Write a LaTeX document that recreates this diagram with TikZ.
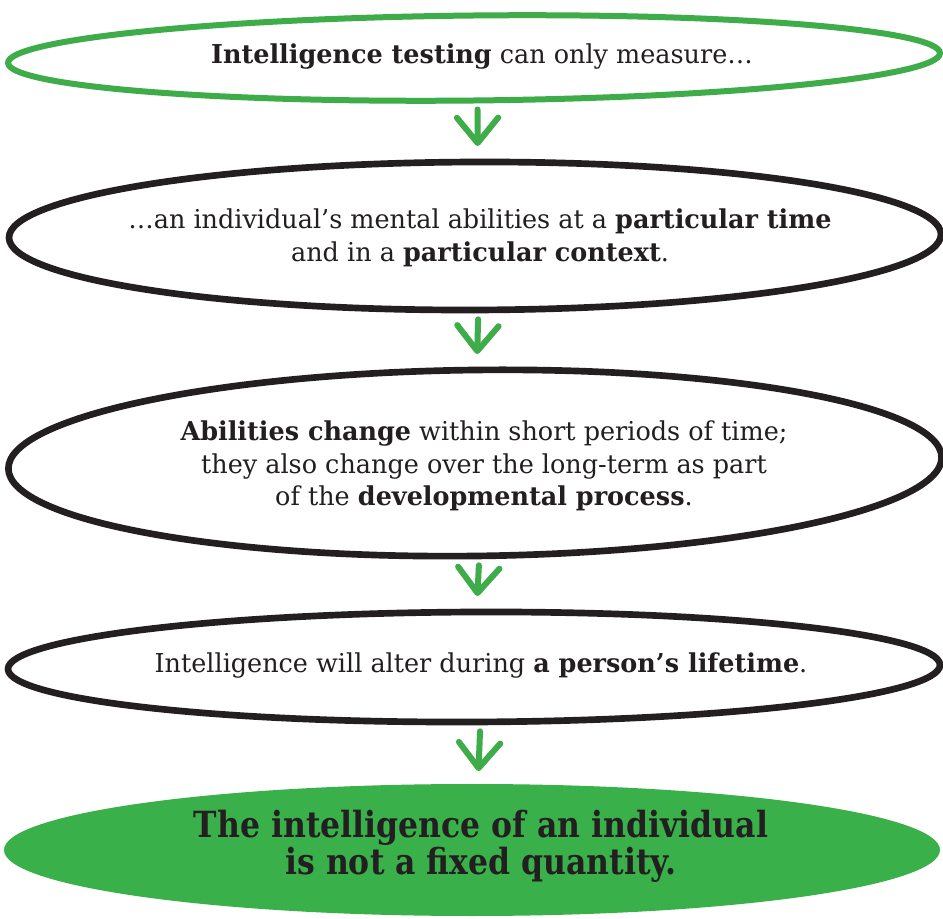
\documentclass[tikz,border=0pt]{standalone}
\usepackage{fontspec}
\setmainfont{DejaVu Serif}[FakeStretch=0.98]
\newfontfamily\heavyfont{DejaVu Serif}[FakeStretch=0.875]
\usetikzlibrary{arrows.meta,shapes.geometric}
\definecolor{lgreen}{RGB}{62,172,73}
\definecolor{fgreen}{RGB}{58,176,74}
\definecolor{ink}{RGB}{35,31,32}
\tikzset{
  lens/.style={ellipse, inner sep=0pt, fill=white},
  lensgreen/.style={lens, draw=lgreen, line width=4.5pt},
  lensblack/.style={lens, draw=ink, line width=5pt},
  lensfill/.style={ellipse, inner sep=0pt, fill=fgreen, draw=none},
  bodytext/.style={text=ink, align=center, inner sep=0pt, font=\fontsize{19.5}{24.5}\selectfont},
  headtext/.style={text=ink, align=center, inner sep=0pt, font=\heavyfont\bfseries\fontsize{27}{25}\selectfont},
  garrow/.style={draw=lgreen, line width=4.5pt, line cap=round,
    shorten <=4.5pt, shorten >=9.5pt,
    -{Straight Barb[length=19pt,width=31pt,line width=4.5pt,round]}}
}
\begin{document}
\begin{tikzpicture}[x=0.75pt,y=-0.75pt]
\useasboundingbox (0,0) rectangle (943,919);
\fill[white] (0,0) rectangle (943,919);
% outlines
\node[lensgreen, minimum width=699pt, minimum height=63.75pt, rotate=0.6] (e1) at (474,58) {};
\node[lensblack, minimum width=699pt, minimum height=111pt, rotate=0.2] (e2) at (475,236) {};
\node[lensblack, minimum width=700pt, minimum height=139.5pt, rotate=0.7] (e3) at (475,463) {};
\node[lensblack, minimum width=699pt, minimum height=82.5pt, rotate=0.25] (e4) at (474,667) {};
\node[lensfill, minimum width=702pt, minimum height=99pt] (e5) at (472,850) {};
% texts
\node[bodytext] (t1) at (482,57) {\textbf{Intelligence testing} can only measure\ldots};
\node[bodytext] (t2) at (480,238) {\ldots an individual’s mental abilities at a \textbf{particular time}\\and in a \textbf{particular context}.};
\node[bodytext] (t3) at (484,466) {\textbf{Abilities change} within short periods of time;\\they also change over the long-term as part\\of the \textbf{developmental process}.};
\node[bodytext] (t4) at (481,666) {Intelligence will alter during \textbf{a person’s lifetime}.};
\node[headtext] (t5) at (481,846) {The intelligence of an individual\\is not a fixed quantity.};
% connectors
\draw[garrow] ([xshift=2.25pt]e1.south) -- ([xshift=2.25pt]e2.north);
\draw[garrow] ([xshift=2.25pt]e2.south) -- ([xshift=2.25pt]e3.north);
\draw[garrow] ([xshift=2.25pt]e3.south) -- ([xshift=2.25pt]e4.north);
\draw[garrow] ([xshift=4.5pt]e4.south) -- ([xshift=4.5pt]e5.north);
\end{tikzpicture}
\end{document}
